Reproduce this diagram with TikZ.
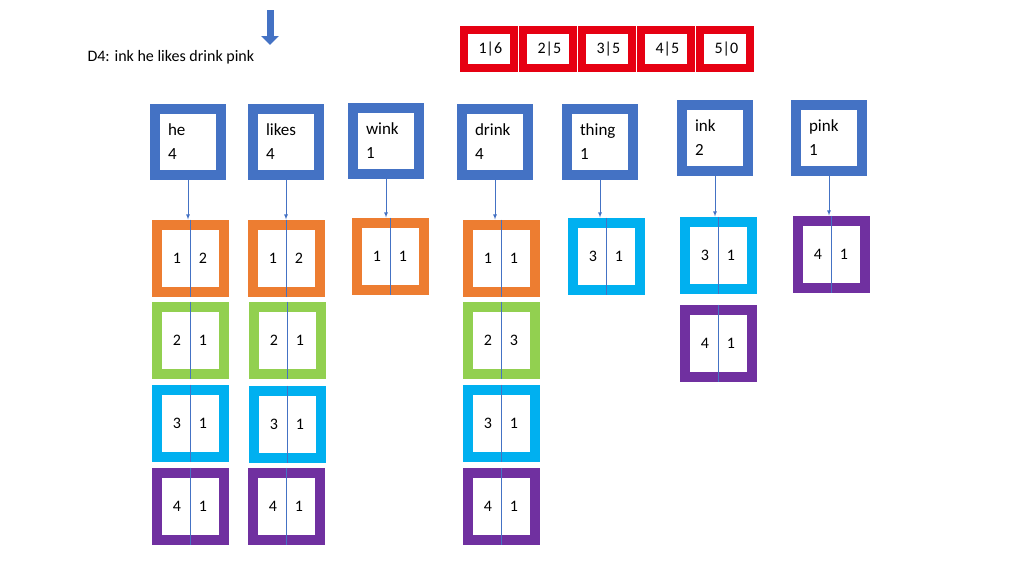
\documentclass[tikz,border=0pt]{standalone}
\usepackage{fontspec}
\setmainfont{Carlito}
\usetikzlibrary{arrows,arrows.meta,positioning}
\definecolor{hblue}{HTML}{4472C4}
\definecolor{porange}{HTML}{ED7D31}
\definecolor{pgreen}{HTML}{92D050}
\definecolor{pcyan}{HTML}{00B0F0}
\definecolor{ppurple}{HTML}{7030A0}
\definecolor{pred}{HTML}{E60012}
\tikzset{
  head/.style={draw=hblue, line width=10pt, fill=white, minimum size=66pt, inner sep=0pt,
               text width=40pt, align=left, font=\fontsize{17}{24}\selectfont},
  post/.style={draw=#1, line width=10pt, fill=white, minimum size=67pt, inner sep=0pt},
  num/.style={font=\fontsize{16}{18}\selectfont},
  dict/.style={draw=pred, line width=8pt, fill=white, minimum width=50pt, minimum height=38pt,
               inner sep=0pt, font=\fontsize{16}{18}\selectfont},
  link/.style={hblue, line width=0.8pt}
}
\newcommand{\post}[6]{%
  \node[post=#2] (#1) at (#3,#4) {};
  \node[num] (#1a) at ([xshift=-13pt]#1.center) {#5};
  \node[num] (#1b) at ([xshift=13pt]#1.center) {#6};
  \draw[link] (#1.north) -- (#1.south);}
\begin{document}
\begin{tikzpicture}[x=1pt,y=-1pt]
\useasboundingbox (0,0) rectangle (1024,576);
% query and arrow
\node[anchor=west, font=\fontsize{16}{18}\selectfont] (query) at (84,57) {D4: ink he likes drink pink};
\coordinate (qtop) at (270,10);
\coordinate (qbot) at (270,45);
\draw[hblue, line width=7pt, -{Triangle[length=9pt,width=17pt]}] (qtop) -- (qbot);
% dictionary
\node[dict] (d1) at (489,49) {\,1|6};
\node[dict] (d2) at (548,49) {\,2|5};
\node[dict] (d3) at (607,49) {\,3|5};
\node[dict] (d4) at (666,49) {\,4|5};
\node[dict] (d5) at (725,49) {\,5|0};
% terms
\node[head] (he) at (188,142) {he\\4};
\node[head] (likes) at (286,142) {likes\\4};
\node[head] (wink) at (386,141) {wink\\1};
\node[head] (drink) at (495,142) {drink\\4};
\node[head] (thing) at (600,142) {thing\\1};
\node[head] (ink) at (715,138) {ink\\2};
\node[head] (pink) at (829,138) {pink\\1};
% postings
\post{he1}{porange}{190}{258}{1}{2}
\post{he2}{pgreen}{190}{340}{2}{1}
\post{he3}{pcyan}{190}{423}{3}{1}
\post{he4}{ppurple}{190}{506}{4}{1}
\post{li1}{porange}{286}{258}{1}{2}
\post{li2}{pgreen}{287}{340}{2}{1}
\post{li3}{pcyan}{287}{424}{3}{1}
\post{li4}{ppurple}{286}{506}{4}{1}
\post{wi1}{porange}{390}{256}{1}{1}
\post{dr1}{porange}{501}{258}{1}{1}
\post{dr2}{pgreen}{501}{340}{2}{3}
\post{dr3}{pcyan}{501}{423}{3}{1}
\post{dr4}{ppurple}{501}{506}{4}{1}
\post{th1}{pcyan}{606}{256}{3}{1}
\post{in1}{pcyan}{718}{255}{3}{1}
\post{in2}{ppurple}{718}{343}{4}{1}
\post{pi1}{ppurple}{831}{254}{4}{1}
% pointers
\foreach \t/\p in {he/he1, likes/li1, wink/wi1, drink/dr1, thing/th1, ink/in1, pink/pi1}
  \draw[link, -latex] (\t.south) -- (\t.south |- \p.north);
\end{tikzpicture}
\end{document}
